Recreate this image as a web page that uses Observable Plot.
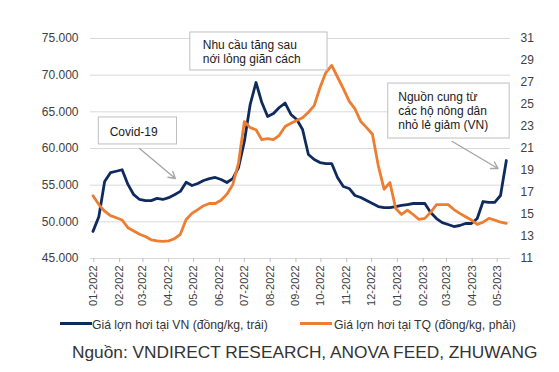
<!DOCTYPE html>
<html><head><meta charset="utf-8">
<script src="https://cdn.jsdelivr.net/npm/d3@7"></script>
<script src="https://cdn.jsdelivr.net/npm/@observablehq/plot@0.6"></script>
<style>
body{margin:0;background:#fff;font-family:"Liberation Sans",Arial,sans-serif;}
#wrap{position:relative;width:559px;height:372px;overflow:hidden;}
#chart{position:absolute;left:0;top:0;}
.lg{position:absolute;top:317px;height:16px;line-height:16px;font-size:12.2px;color:#333;white-space:nowrap;}
.sw{position:absolute;top:322px;height:3px;width:32px;}
#caption{position:absolute;top:342px;left:72px;font-size:17.3px;line-height:20px;color:#333;white-space:nowrap;}
</style></head><body>
<div id="wrap">
<div id="chart"></div>
<div class="sw" id="sw1" style="left:60px;"></div>
<div class="lg" id="lg1" style="left:92px;"></div>
<div class="sw" id="sw2" style="left:300px;"></div>
<div class="lg" id="lg2" style="left:334px;"></div>
<div id="caption"></div>
</div>
<script>
// ---- data ----
const seriesNames = ["Giá lợn hơi tại VN (đồng/kg, trái)", "Giá lợn hơi tại TQ (đồng/kg, phải)"];
const seriesColors = ["#0f2b5e", "#ed7d31"];
const sourceText = "Nguồn: VNDIRECT RESEARCH, ANOVA FEED, ZHUWANG";
const firstWeek = "2021-12-31"; // weekly observations
const vnPrice = [48700,50700,55500,56700,56900,57100,55100,53700,53050,52900,
  52900,53200,53050,53300,53700,54150,55400,54950,55230,55640,
  55900,56050,55770,55360,55900,57400,60950,66000,69000,66270,
  64360,64770,65590,66200,64640,63950,62590,59180,58500,58090,
  57950,57950,56050,54820,54550,53590,53320,52900,52500,52090,
  51950,51950,52090,52230,52360,52500,52500,52500,51270,50450,
  49900,49640,49360,49500,49770,49770,50450,52770,52640,52640,
  53590,58360];
const tqPrice = [16.7,15.9,15.3,14.9,14.7,14.5,13.8,13.5,13.2,13.0,
  12.7,12.6,12.55,12.6,12.8,13.2,14.55,15.1,15.45,15.8,
  16.0,16.0,16.3,16.85,17.7,19.7,23.45,22.9,22.7,21.8,
  21.9,21.8,22.2,23.0,23.3,23.55,23.8,24.3,24.9,26.55,
  27.9,28.55,27.5,26.45,25.3,24.6,23.45,22.9,22.3,19.45,
  17.3,17.9,15.55,15.0,15.4,15.0,14.55,14.65,15.2,15.9,
  15.9,15.9,15.45,15.1,14.8,14.5,14.1,14.3,14.65,14.5,
  14.3,14.2];
const monthTicks = ["2022-01-01","2022-02-01","2022-03-01","2022-04-01","2022-05-01","2022-06-01",
  "2022-07-01","2022-08-01","2022-09-01","2022-10-01","2022-11-01","2022-12-01",
  "2023-01-01","2023-02-01","2023-03-01","2023-04-01","2023-05-01"];
const leftTicks = [45000,50000,55000,60000,65000,70000,75000];
const rightTicks = [11,13,15,17,19,21,23,25,27,29,31];
const noteTexts = ["Covid-19", "Nhu cầu tăng sau\nnới lỏng giãn cách", "Nguồn cung từ\ncác hộ nông dân\nnhỏ lẻ giảm (VN)"];
const noteAt = [["2022-01-20",62320],["2022-05-12",73230],["2023-01-02",65180]];
const noteBoxes = [["2022-01-07","2022-04-11",60550,64230],["2022-04-27","2022-10-09",70640,75820],["2022-12-21","2023-05-16",61360,68860]];
const noteArrows = [["2022-02-25",60000,"2022-04-09",55910],["2023-03-08",60955,"2023-05-02",57273]];

// ---- build ----
const D = s => new Date(s + "T00:00Z");
const dates = vnPrice.map((_, i) => d3.utcDay.offset(D(firstWeek), 7 * i));
const toLeft = v => 45000 + (v - 11) * 1500;
const fromLeft = v => (v - 45000) / 1500 + 11;
const fmtLeft = v => d3.format(",")(v).replace(/,/g, ".");
const rows = dates.map((d, i) => ({date: d, vn: vnPrice[i], tq: toLeft(tqPrice[i])}));
const notes = noteTexts.map((t, i) => ({text: t, x: D(noteAt[i][0]), y: noteAt[i][1],
  x1: D(noteBoxes[i][0]), x2: D(noteBoxes[i][1]), y1: noteBoxes[i][2], y2: noteBoxes[i][3]}));
const arrows = noteArrows.map(a => ({x1: D(a[0]), y1: a[1], x2: D(a[2]), y2: a[3]}));

const chart = Plot.plot({
  width: 559, height: 312,
  marginLeft: 90, marginRight: 49, marginTop: 38, marginBottom: 54,
  style: {fontFamily: "'Liberation Sans', Arial, sans-serif", fontSize: "12px", color: "#404040", background: "white"},
  x: {type: "utc", domain: [D("2021-12-28"), D("2023-05-17")]},
  y: {domain: [45000, 75000]},
  marks: [
    Plot.gridY(leftTicks, {stroke: "#d9d9d9", strokeOpacity: 1}),
    Plot.axisY(leftTicks, {tickSize: 0, tickPadding: 12, tickFormat: fmtLeft, fontSize: 12, label: null}),
    Plot.axisY(rightTicks.map(toLeft), {anchor: "right", tickSize: 0, tickPadding: 10, tickFormat: v => String(Math.round(fromLeft(v))), fontSize: 12, label: null}),
    Plot.axisX(monthTicks.map(D), {tickRotate: -90, tickFormat: d3.utcFormat("%m-%Y"), tickSize: 4, tickPadding: 3, stroke: "#bfbfbf", fontSize: 11, label: null}),
    Plot.line(rows, {x: "date", y: "vn", stroke: seriesColors[0], strokeWidth: 2.8}),
    Plot.line(rows, {x: "date", y: "tq", stroke: seriesColors[1], strokeWidth: 2.8}),
    Plot.rect(notes, {x1: "x1", x2: "x2", y1: "y1", y2: "y2", fill: "white", stroke: "#bfbfbf", strokeWidth: 1}),
    Plot.text(notes, {x: "x", y: "y", text: "text", textAnchor: "start", lineHeight: 1.18, fontSize: 12, fill: "#1a1a1a"}),
    Plot.arrow(arrows, {x1: "x1", y1: "y1", x2: "x2", y2: "y2", stroke: "#a6a6a6", strokeWidth: 1.4, headLength: 8})
  ]
});
document.getElementById("chart").appendChild(chart);
document.getElementById("sw1").style.background = seriesColors[0];
document.getElementById("sw2").style.background = seriesColors[1];
document.getElementById("lg1").textContent = seriesNames[0];
document.getElementById("lg2").textContent = seriesNames[1];
document.getElementById("caption").textContent = sourceText;
</script>
</body></html>
